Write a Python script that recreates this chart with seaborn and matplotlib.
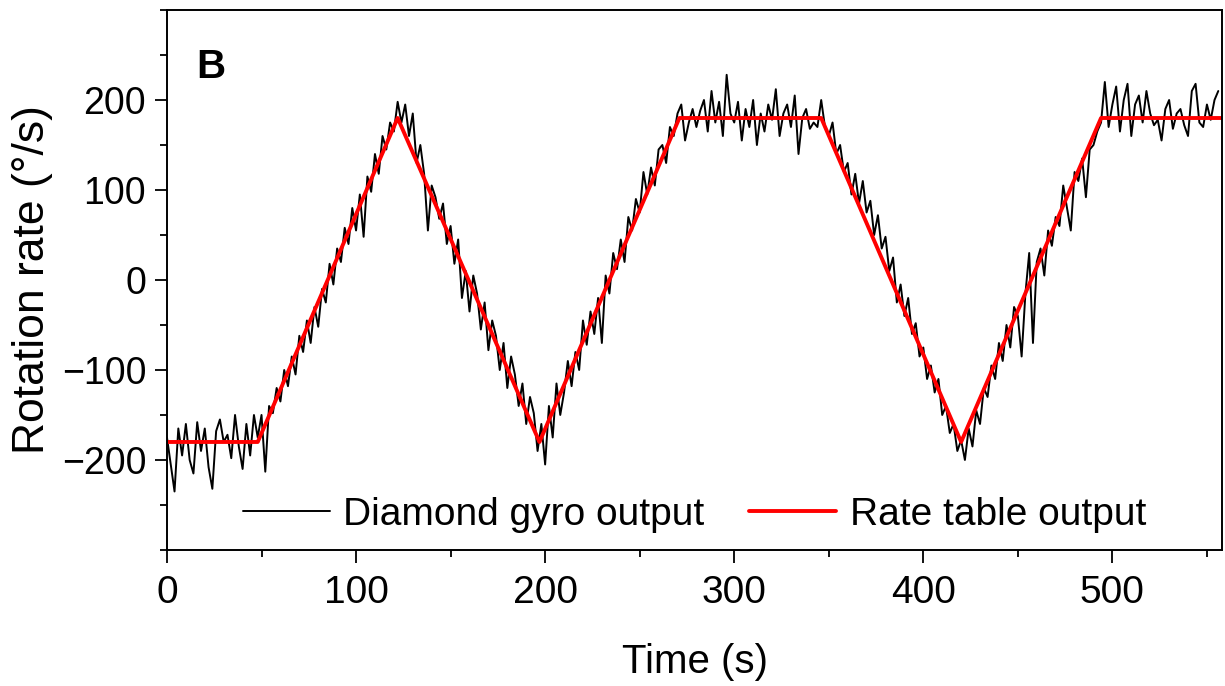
import numpy as np
import pandas as pd
import matplotlib
matplotlib.use("Agg")
import matplotlib.pyplot as plt
import seaborn as sns
from matplotlib.ticker import MultipleLocator

# ---- data ----
gyro_dt = 2  # sample spacing in seconds
gyro_values = [
    -175, -205, -235, -165, -195, -160, -200, -215, -158, -190,
    -165, -208, -232, -168, -155, -180, -172, -198, -150, -185,
    -210, -160, -195, -150, -175, -150, -213, -140, -148, -120,
    -135, -100, -118, -85, -105, -62, -80, -45, -70, -30,
    -52, -10, -25, 18, -5, 35, 20, 58, 40, 80,
    55, 95, 48, 115, 98, 140, 118, 160, 145, 175,
    165, 198, 175, 195, 160, 185, 130, 150, 118, 55,
    105, 92, 68, 85, 40, 60, 18, 45, -20, 10,
    -35, 5, -15, -55, -25, -78, -45, -62, -100, -70,
    -120, -85, -105, -140, -115, -160, -130, -148, -190, -160,
    -205, -140, -175, -115, -150, -125, -90, -118, -80, -100,
    -45, -72, -35, -60, -20, -70, 5, -15, 30, 12,
    45, 20, 70, 55, 90, 75, 120, 95, 125, 105,
    145, 150, 130, 170, 160, 185, 195, 155, 175, 190,
    170, 188, 200, 165, 210, 175, 198, 160, 228, 185,
    175, 198, 155, 190, 170, 200, 150, 185, 165, 195,
    178, 212, 160, 185, 195, 170, 205, 140, 180, 190,
    168, 175, 170, 200, 170, 160, 175, 140, 150, 120,
    130, 95, 118, 85, 110, 75, 88, 50, 72, 35,
    48, 10, 25, -25, -5, -40, -20, -60, -48, -85,
    -75, -110, -95, -125, -110, -150, -140, -170, -160, -190,
    -178, -200, -165, -185, -145, -160, -120, -130, -95, -110,
    -70, -90, -50, -75, -30, -40, -85, -15, 30, -70,
    20, 35, 5, 55, 38, 70, 60, 105, 80, 55,
    120, 110, 135, 92, 145, 150, 165, 175, 220, 170,
    195, 215, 165, 200, 218, 160, 195, 205, 175, 210,
    185, 172, 178, 155, 190, 200, 168, 185, 190, 172,
    160, 210, 218, 175, 170, 195, 178, 200, 210,
]
table_times = [0, 48, 122, 197, 271, 346, 420, 494, 558]
table_values = [-180, -180, 180, -180, 180, 180, -180, 180, 180]

x_ticks = [0, 100, 200, 300, 400, 500]
y_ticks = [-200, -100, 0, 100, 200]

gyro_times = np.arange(len(gyro_values)) * gyro_dt
df_gyro = pd.DataFrame({"t": gyro_times, "v": gyro_values})
df_table = pd.DataFrame({"t": table_times, "v": table_values})

# ---- style ----
sns.set_theme(style="ticks")
plt.rcParams["font.family"] = ["Liberation Sans", "DejaVu Sans"]
for k in ["text.color", "axes.labelcolor", "xtick.color", "ytick.color",
          "axes.edgecolor"]:
    plt.rcParams[k] = "black"

fig = plt.figure(figsize=(12.25, 6.86), dpi=100)
ax = fig.add_axes([0.1363, 0.1983, 0.9976 - 0.1363, 0.9854 - 0.1983])

sns.lineplot(data=df_gyro, x="t", y="v", ax=ax, color="black", linewidth=1.4,
             label="Diamond gyro output", estimator=None, sort=False)
sns.lineplot(data=df_table, x="t", y="v", ax=ax, color="#ff0000", linewidth=2.8,
             label="Rate table output", estimator=None, sort=False)

ax.set_xlim(0, 558)
ax.set_ylim(-300, 300)
ax.set_xticks(x_ticks)
ax.set_yticks(y_ticks)
ax.set_yticklabels([str(v).replace("-", "\u2212") for v in y_ticks])
ax.xaxis.set_minor_locator(MultipleLocator(50))
ax.yaxis.set_minor_locator(MultipleLocator(50))
ax.tick_params(which="major", direction="out", length=9, width=1.3,
               color="black", labelcolor="black")
ax.tick_params(axis="x", which="major", pad=9, labelsize=28)
ax.tick_params(axis="y", which="major", pad=6, labelsize=27)
ax.tick_params(which="minor", direction="out", length=5, width=1.3,
               color="black")
ax.tick_params(top=False, right=False, which="both")

for s in ax.spines.values():
    s.set_visible(True)
    s.set_color("black")
    s.set_linewidth(1.4)

ax.set_xlabel("Time (s)", fontsize=29, labelpad=23)
ax.set_ylabel("Rotation rate (\u00b0/s)", fontsize=32, labelpad=6)

ax.text(0.028, 0.895, "B", transform=ax.transAxes, fontsize=29,
        fontweight="bold", color="black", va="center", ha="left")

leg = ax.legend(loc="lower center", bbox_to_anchor=(0.5, -0.033), ncol=2,
                frameon=False, fontsize=28, handlelength=2.24,
                columnspacing=1.15, handletextpad=0.35)
for t in leg.get_texts():
    t.set_color("black")

fig.savefig("out.png", dpi=100, facecolor="white")
